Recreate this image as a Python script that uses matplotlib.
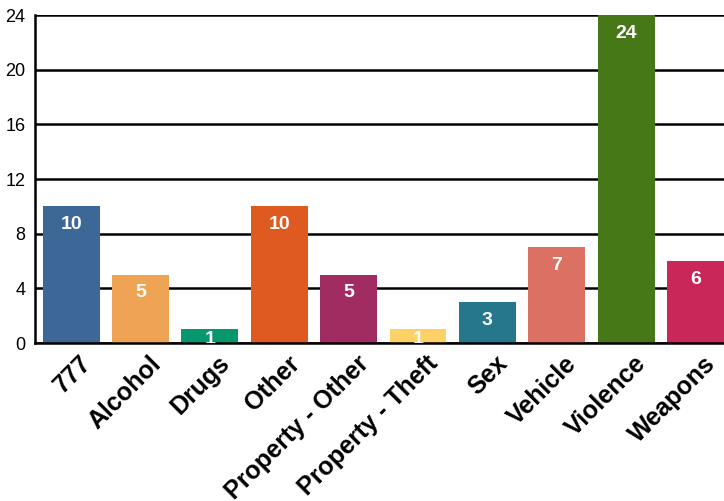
import matplotlib
matplotlib.use("Agg")
import matplotlib.pyplot as plt
from matplotlib.transforms import ScaledTranslation

plt.rcParams['font.family'] = ['Liberation Sans', 'DejaVu Sans']

categories = ["777", "Alcohol", "Drugs", "Other", "Property - Other",
              "Property - Theft", "Sex", "Vehicle", "Violence", "Weapons"]
counts = [10, 5, 1, 10, 5, 1, 3, 7, 24, 6]
colors = ["#3c6797", "#efa355", "#07976f", "#de5a21", "#a12c62",
          "#fdd166", "#26778c", "#dc7063", "#467818", "#c9275a"]
y_ticks = [0, 4, 8, 12, 16, 20, 24]

fig = plt.figure(figsize=(7.24, 5.01), dpi=100)
ax = fig.add_axes([35 / 724, 158 / 501, 689 / 724, 328 / 501])

x = list(range(len(categories)))
bars = ax.bar(x, counts, width=0.82, color=colors, zorder=2)

for b, v in zip(bars, counts):
    # tiny bars: label hugs the top and gets clipped by the axis
    off = -7 if v > 2 else -1
    ax.annotate(str(v), (b.get_x() + b.get_width() / 2, v),
                xytext=(0, off), textcoords="offset points",
                ha="center", va="top", color="white",
                fontsize=14, fontweight="bold", zorder=3,
                annotation_clip=False, clip_on=True)

ax.set_xlim(-0.52, 9.41)
ax.set_ylim(0, 24)
ax.set_yticks(y_ticks)
ax.yaxis.grid(True, color="black", linewidth=1.8, zorder=0)
ax.set_axisbelow(True)

ax.set_xticks(x)
ax.set_xticklabels(categories, rotation=45, ha="right",
                   rotation_mode="anchor", fontsize=18, fontweight="bold")
ax.tick_params(axis="x", length=0, pad=6)
ax.tick_params(axis="y", length=0, labelsize=13, pad=7)

# push the rotated labels a bit to the right, like the reference
shift = ScaledTranslation(8 / 100, 0, fig.dpi_scale_trans)
for lbl in ax.get_xticklabels():
    lbl.set_transform(lbl.get_transform() + shift)

for side in ["top", "right"]:
    ax.spines[side].set_visible(False)
ax.spines["left"].set_linewidth(1.8)
ax.spines["bottom"].set_linewidth(1.8)

fig.savefig("out.png", dpi=100)
